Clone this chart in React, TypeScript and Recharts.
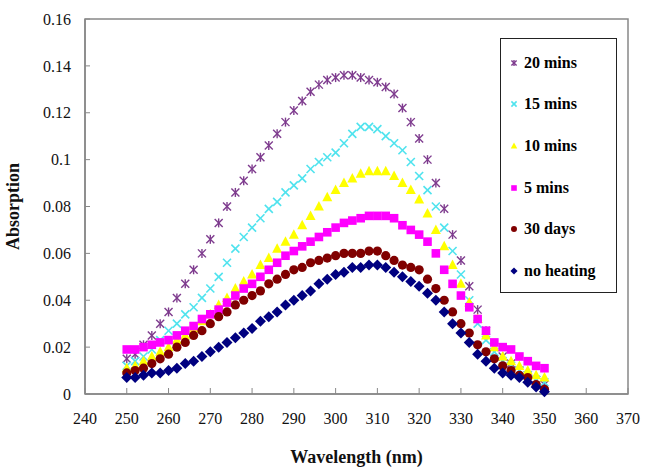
import React from "react";
import { LineChart, Line, XAxis, YAxis, ReferenceArea, Legend, Label } from "recharts";

// wavelength (nm), sampled every 2 nm
const wavelengths = [
  250, 252, 254, 256, 258, 260, 262, 264, 266, 268, 270, 272, 274, 276, 278, 280, 282,
  284, 286, 288, 290, 292, 294, 296, 298, 300, 302, 304, 306, 308, 310, 312, 314, 316,
  318, 320, 322, 324, 326, 328, 330, 332, 334, 336, 338, 340, 342, 344, 346, 348, 350,
];

const mins20 = [
  0.015, 0.017, 0.021, 0.025, 0.03, 0.035, 0.041, 0.047, 0.053, 0.06, 0.066, 0.073, 0.08,
  0.086, 0.091, 0.096, 0.101, 0.106, 0.111, 0.116, 0.121, 0.125, 0.129, 0.132, 0.134,
  0.135, 0.136, 0.136, 0.135, 0.134, 0.133, 0.131, 0.128, 0.122, 0.116, 0.109, 0.1, 0.09,
  0.079, 0.068, 0.057, 0.046, 0.036, 0.027, 0.02, 0.016, 0.013, 0.01, 0.008, 0.006, 0.004,
];
const mins15 = [
  0.012, 0.014, 0.016, 0.019, 0.023, 0.027, 0.03, 0.034, 0.037, 0.041, 0.045, 0.05, 0.056,
  0.062, 0.067, 0.071, 0.075, 0.079, 0.082, 0.086, 0.089, 0.092, 0.096, 0.099, 0.101,
  0.103, 0.107, 0.111, 0.114, 0.114, 0.113, 0.11, 0.107, 0.104, 0.099, 0.093, 0.087, 0.08,
  0.071, 0.061, 0.051, 0.04, 0.03, 0.023, 0.018, 0.014, 0.012, 0.01, 0.008, 0.006, 0.005,
];
const mins10 = [
  0.011, 0.012, 0.014, 0.016, 0.018, 0.02, 0.023, 0.025, 0.028, 0.031, 0.034, 0.038, 0.041,
  0.045, 0.048, 0.051, 0.055, 0.058, 0.062, 0.065, 0.068, 0.072, 0.076, 0.08, 0.084,
  0.087, 0.09, 0.092, 0.094, 0.095, 0.095, 0.095, 0.093, 0.09, 0.087, 0.083, 0.077, 0.07,
  0.063, 0.055, 0.047, 0.039, 0.032, 0.025, 0.02, 0.016, 0.014, 0.012, 0.01, 0.008, 0.007,
];
const mins5 = [
  0.019, 0.019, 0.02, 0.021, 0.022, 0.023, 0.025, 0.027, 0.029, 0.032, 0.034, 0.036, 0.039,
  0.042, 0.045, 0.047, 0.05, 0.053, 0.056, 0.059, 0.061, 0.063, 0.065, 0.067, 0.069,
  0.071, 0.073, 0.074, 0.075, 0.076, 0.076, 0.076, 0.075, 0.072, 0.07, 0.068, 0.065, 0.06,
  0.053, 0.047, 0.042, 0.037, 0.032, 0.027, 0.022, 0.02, 0.019, 0.016, 0.014, 0.012, 0.011,
];
const days30 = [
  0.009, 0.01, 0.011, 0.013, 0.015, 0.017, 0.02, 0.022, 0.025, 0.027, 0.03, 0.033, 0.035,
  0.038, 0.04, 0.042, 0.044, 0.047, 0.049, 0.051, 0.053, 0.054, 0.056, 0.057, 0.058,
  0.059, 0.06, 0.06, 0.06, 0.061, 0.061, 0.059, 0.057, 0.055, 0.054, 0.053, 0.049, 0.045,
  0.04, 0.035, 0.03, 0.026, 0.021, 0.018, 0.015, 0.012, 0.01, 0.008, 0.007, 0.004, 0.002,
];
const noHeating = [
  0.007, 0.007, 0.008, 0.009, 0.009, 0.01, 0.011, 0.013, 0.014, 0.016, 0.018, 0.02, 0.022,
  0.024, 0.026, 0.028, 0.031, 0.033, 0.035, 0.038, 0.04, 0.042, 0.044, 0.047, 0.049,
  0.051, 0.052, 0.054, 0.054, 0.055, 0.055, 0.054, 0.052, 0.05, 0.048, 0.046, 0.043, 0.04,
  0.035, 0.03, 0.026, 0.022, 0.017, 0.014, 0.011, 0.009, 0.008, 0.007, 0.005, 0.003, 0.001,
];

const xTicks = [240, 250, 260, 270, 280, 290, 300, 310, 320, 330, 340, 350, 360, 370];
const yTicks = [0, 0.02, 0.04, 0.06, 0.08, 0.1, 0.12, 0.14, 0.16];

const data = wavelengths.map((wl, i) => ({
  wl,
  m20: mins20[i],
  m15: mins15[i],
  m10: mins10[i],
  m5: mins5[i],
  d30: days30[i],
  none: noHeating[i],
}));

const FONT = "Liberation Serif, Times New Roman, serif";

type Shape = "star" | "cross" | "triangle" | "square" | "circle" | "diamond";

const Marker = ({ cx, cy, shape, color, s = 1 }: { cx: number; cy: number; shape: Shape; color: string; s?: number }) => {
  if (cx == null || cy == null) return null;
  switch (shape) {
    case "star":
      return (
        <g stroke={color} strokeWidth={1.4}>
          <line x1={cx - 4 * s} y1={cy - 4 * s} x2={cx + 4 * s} y2={cy + 4 * s} />
          <line x1={cx - 4 * s} y1={cy + 4 * s} x2={cx + 4 * s} y2={cy - 4 * s} />
          <line x1={cx} y1={cy - 4.5 * s} x2={cx} y2={cy + 4.5 * s} />
        </g>
      );
    case "cross":
      return (
        <g stroke={color} strokeWidth={1.6}>
          <line x1={cx - 4 * s} y1={cy - 4 * s} x2={cx + 4 * s} y2={cy + 4 * s} />
          <line x1={cx - 4 * s} y1={cy + 4 * s} x2={cx + 4 * s} y2={cy - 4 * s} />
        </g>
      );
    case "triangle":
      return (
        <polygon
          points={`${cx},${cy - 5.5 * s} ${cx + 5 * s},${cy + 4 * s} ${cx - 5 * s},${cy + 4 * s}`}
          fill={color}
        />
      );
    case "square":
      return <rect x={cx - 4.3 * s} y={cy - 4.3 * s} width={8.6 * s} height={8.6 * s} fill={color} />;
    case "circle":
      return <circle cx={cx} cy={cy} r={4.6 * s} fill={color} />;
    default:
      return (
        <polygon
          points={`${cx},${cy - 5.5 * s} ${cx + 5.5 * s},${cy} ${cx},${cy + 5.5 * s} ${cx - 5.5 * s},${cy}`}
          fill={color}
        />
      );
  }
};

const series: { key: string; name: string; shape: Shape; color: string }[] = [
  { key: "m20", name: "20 mins", shape: "star", color: "#7E3B8E" },
  { key: "m15", name: "15 mins", shape: "cross", color: "#4FE3EE" },
  { key: "m10", name: "10 mins", shape: "triangle", color: "#FFFF00" },
  { key: "m5", name: "5 mins", shape: "square", color: "#FF00FF" },
  { key: "d30", name: "30 days", shape: "circle", color: "#800000" },
  { key: "none", name: "no heating", shape: "diamond", color: "#000080" },
];

const LegendBox = () => (
  <div
    style={{
      width: 117,
      height: 255,
      boxSizing: "border-box",
      border: "1.5px solid #222",
      background: "#fff",
      fontFamily: FONT,
      fontWeight: "bold",
      fontSize: 16,
      paddingTop: 3,
    }}
  >
    {series.map((s) => (
      <div key={s.key} style={{ display: "flex", alignItems: "center", height: 41.6, paddingLeft: 8 }}>
        <svg width={10} height={10} style={{ marginRight: 5 }}>
          <Marker cx={5} cy={5} shape={s.shape} color={s.color} s={0.65} />
        </svg>
        <span style={{ color: "#000" }}>{s.name}</span>
      </div>
    ))}
  </div>
);

export default function App() {
  return (
    <div style={{ position: "absolute", left: 0, top: 0, width: 646, height: 467, background: "#fff" }}>
      <LineChart width={646} height={467} data={data} margin={{ top: 19, right: 18, left: 0, bottom: 0 }}>
        <XAxis
          dataKey="wl"
          type="number"
          domain={[240, 370]}
          ticks={xTicks}
          interval={0}
          height={73}
          tickSize={-6}
          tickMargin={25}
          axisLine={{ stroke: "#888", strokeWidth: 1.5 }}
          tickLine={{ stroke: "#888", strokeWidth: 1 }}
          tick={{ fill: "#111", fontFamily: FONT, fontSize: 16 }}
        >
          <Label
            content={(p: any) => {
              const vb = p.viewBox;
              return (
                <text
                  x={vb.x + vb.width / 2}
                  y={vb.y + 69}
                  textAnchor="middle"
                  fontFamily={FONT}
                  fontWeight="bold"
                  fontSize={18}
                  fill="#111"
                >
                  Wavelength (nm)
                </text>
              );
            }}
          />
        </XAxis>
        <YAxis
          type="number"
          domain={[0, 0.16]}
          ticks={yTicks}
          interval={0}
          width={85}
          tickSize={-5}
          tickMargin={19}
          axisLine={{ stroke: "#888", strokeWidth: 1.5 }}
          tickLine={{ stroke: "#888", strokeWidth: 1 }}
          tick={{ fill: "#111", fontFamily: FONT, fontSize: 16 }}
        >
          <Label
            content={(p: any) => {
              const vb = p.viewBox;
              const x = vb.x + 19;
              const y = vb.y + vb.height / 2;
              return (
                <text
                  x={x}
                  y={y}
                  transform={`rotate(-90 ${x} ${y})`}
                  textAnchor="middle"
                  fontFamily={FONT}
                  fontWeight="bold"
                  fontSize={18}
                  fill="#111"
                >
                  Absorption
                </text>
              );
            }}
          />
        </YAxis>
        <ReferenceArea x1={240} x2={370} y1={0} y2={0.16} fill="none" stroke="#888" strokeWidth={1.5} />
        {series.map((s) => (
          <Line
            key={s.key}
            dataKey={s.key}
            name={s.name}
            stroke="none"
            isAnimationActive={false}
            activeDot={false}
            dot={(p: any) => <Marker key={`${s.key}-${p.index}`} cx={p.cx} cy={p.cy} shape={s.shape} color={s.color} />}
          />
        ))}
        <Legend
          layout="horizontal"
          verticalAlign="middle"
          align="center"
          content={() => <LegendBox />}
          wrapperStyle={{ left: 500, top: 38, width: 117, height: 255 }}
        />
      </LineChart>
    </div>
  );
}
